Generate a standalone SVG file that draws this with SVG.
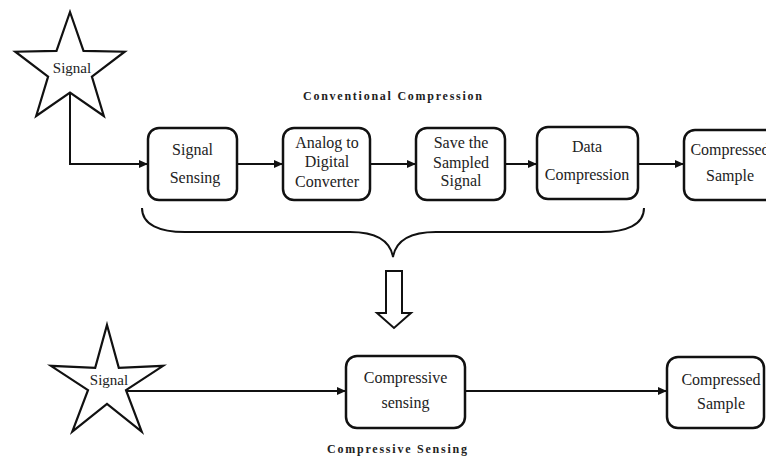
<svg xmlns="http://www.w3.org/2000/svg" width="766" height="458" viewBox="0 0 766 458">
<style>
.box{fill:#fff;stroke:#111;stroke-width:2.5}
.star{fill:#fff;stroke:#111;stroke-width:2.2;stroke-linejoin:miter}
.ln{fill:none;stroke:#111;stroke-width:2}
.t{font-family:"Liberation Serif","Times New Roman",serif;font-size:16px;fill:#222;text-anchor:middle}
.ts{font-family:"Liberation Serif","Times New Roman",serif;font-size:15px;fill:#222;text-anchor:middle}
.title{font-family:"Liberation Serif","Times New Roman",serif;font-size:12px;font-weight:bold;fill:#222}
</style>
<defs>
<marker id="ah" markerWidth="9" markerHeight="8" refX="9" refY="4" orient="auto" markerUnits="userSpaceOnUse">
<path d="M0,0 L9,4 L0,8 z" fill="#111"/>
</marker>
</defs>
<rect width="766" height="458" fill="#fff"/>

<g id="connectors">
<path class="ln" d="M70,92 L70,164 L148,164" marker-end="url(#ah)"/>
<path class="ln" d="M237,164 L283,164" marker-end="url(#ah)"/>
<path class="ln" d="M370,164 L416,164" marker-end="url(#ah)"/>
<path class="ln" d="M505,164 L537,164" marker-end="url(#ah)"/>
<path class="ln" d="M638,164 L684,164" marker-end="url(#ah)"/>
<path class="ln" d="M126,391 L346,391" marker-end="url(#ah)"/>
<path class="ln" d="M465,391 L667,391" marker-end="url(#ah)"/>
</g>

<g id="signal1">
<polygon class="star" points="70,12 83.5,50.9 124.7,51.7 91.9,76.6 103.8,116 70,92.5 36.2,116 48.1,76.6 15.3,51.7 56.5,50.9"/>
<text class="ts" x="72" y="73">Signal</text>
</g>

<text class="title" x="303" y="100" textLength="179" lengthAdjust="spacing">Conventional Compression</text>

<g id="signal-sensing">
<rect class="box" x="148" y="128" width="89" height="72" rx="11"/>
<text class="t" x="192.5" y="155">Signal</text>
<text class="t" x="195" y="183">Sensing</text>
</g>
<g id="adc">
<rect class="box" x="283" y="128" width="87" height="72" rx="11"/>
<text class="t" x="327" y="148">Analog to</text>
<text class="t" x="327" y="167">Digital</text>
<text class="t" x="327" y="187">Converter</text>
</g>
<g id="save">
<rect class="box" x="416" y="128" width="89" height="72" rx="11"/>
<text class="t" x="461" y="148">Save the</text>
<text class="t" x="461" y="168">Sampled</text>
<text class="t" x="461" y="186">Signal</text>
</g>
<g id="data-compression">
<rect class="box" x="537" y="127" width="101" height="72" rx="11"/>
<text class="t" x="587" y="152">Data</text>
<text class="t" x="587" y="180">Compression</text>
</g>
<g id="compressed1">
<rect class="box" x="684" y="130" width="92" height="70" rx="11"/>
<text class="t" x="730" y="155">Compressed</text>
<text class="t" x="730" y="181">Sample</text>
</g>

<g id="brace">
<path class="ln" d="M142,208 C142,225 160,232 185,232 L350,232 C375,232 390,240 393,257 C396,240 411,232 436,232 L601,232 C626,232 644,225 644,208"/>
</g>
<g id="down-arrow">
<polygon fill="#fff" stroke="#111" stroke-width="2" points="386,271 402,271 402,313 411,313 394,328 377,313 386,313"/>
</g>

<g id="signal2">
<polygon class="star" points="107,325 118.8,367.8 163.1,365.8 126,390.2 141.7,431.7 107,404 72.3,431.7 88,390.2 50.9,365.8 95.2,367.8"/>
<text class="ts" x="109" y="385">Signal</text>
</g>

<g id="compressive-sensing">
<rect class="box" x="346" y="356" width="119" height="72" rx="11"/>
<text class="t" x="405.5" y="383">Compressive</text>
<text class="t" x="405.5" y="408">sensing</text>
</g>
<g id="compressed2">
<rect class="box" x="667" y="357" width="97" height="71" rx="11"/>
<text class="t" x="721" y="385">Compressed</text>
<text class="t" x="721" y="409">Sample</text>
</g>

<text class="title" x="327" y="453" textLength="140" lengthAdjust="spacing">Compressive Sensing</text>
</svg>
